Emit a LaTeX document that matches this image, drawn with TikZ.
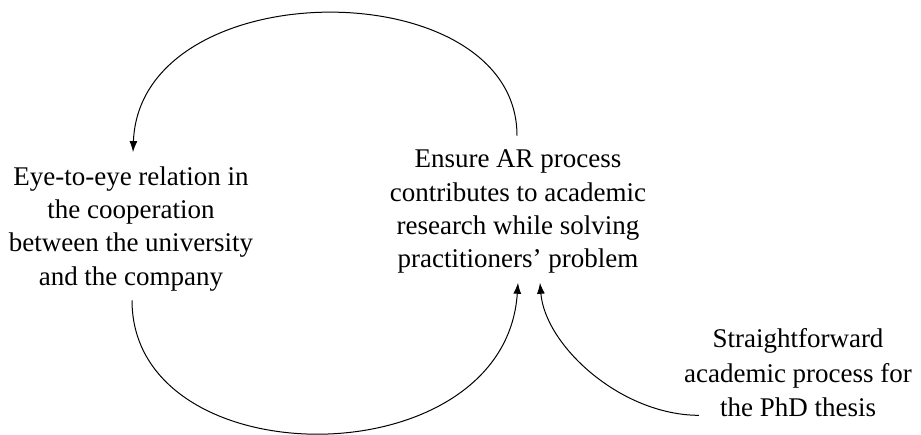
\documentclass[tikz,border=0pt]{standalone}
\usepackage{fontspec}
\setmainfont{Liberation Serif}
\usetikzlibrary{arrows.meta}

\begin{document}
\begin{tikzpicture}[x=1pt,y=1pt,
    box/.style={align=center,inner sep=3pt,font=\fontsize{27}{33.4}\selectfont},
    arr/.style={line width=1pt,-{Latex[length=11pt,width=8pt]}}]
  \useasboundingbox (0,0) rectangle (921,435);
  \node[box] (relation) at (131,206.3) {Eye-to-eye relation in\\the cooperation\\between the university\\and the company};
  \node[box] (ensure) at (518,223.3) {Ensure AR process\\contributes to academic\\research while solving\\practitioners' problem};
  \node[box,font=\fontsize{27}{34.5}\selectfont] (phd) at (798,62) {Straightforward\\academic process for\\the PhD thesis};
  % loop between the two goals
  \draw[arr] ([xshift=-1pt,yshift=11pt]ensure.north) .. controls (517,465) and (140,465) .. ([xshift=2pt,yshift=11pt]relation.north);
  \draw[arr] ([xshift=1pt,yshift=-6pt]relation.south) .. controls (132,-45) and (505,-45) .. ([yshift=-6pt]ensure.south);
  \draw[arr] ([xshift=18pt,yshift=5pt]phd.south west) .. controls (620,20) and (545,90) .. ([xshift=22pt,yshift=-6pt]ensure.south);
\end{tikzpicture}
\end{document}
